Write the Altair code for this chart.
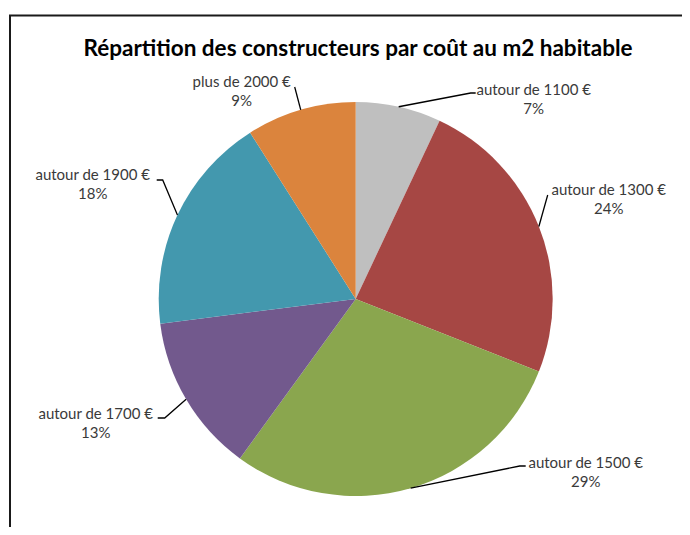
import math
import altair as alt
import pandas as pd

# ---- data ----
categories = ["autour de 1100 €", "autour de 1300 €", "autour de 1500 €",
              "autour de 1700 €", "autour de 1900 €", "plus de 2000 €"]
values = [7, 24, 29, 13, 18, 9]
pct_labels = ["7%", "24%", "29%", "13%", "18%", "9%"]
title_text = "Répartition des constructeurs par coût au m2 habitable"

# ---- style / layout ----
colors = ["#BFBFBF", "#A64744", "#8AA64E", "#72598D", "#4398AE", "#DB843D"]
W, H = 674, 519
CX, CY = 347.7, 291.0          # pie centre in chart pixels
R = 197
# label text centre offsets from pie centre (first line), second line below
label_dx = [178, 253, 230, -260, -263, -114]
label_dy = [-209, -109, 164, 115, -124, -217]
line_gap = 19
# leader elbow and tail offsets from pie centre
elbow_dx = [115, 192, 164, -191, -193, -61]
elbow_dy = [-206, -104, 167, 119, -119, -212]
tail_dx = [120, 192, 170, -198, -199, -61]

total = sum(values)
rows, lines = [], []
cum = 0
for i, (c, v) in enumerate(zip(categories, values)):
    mid = (cum + v / 2) / total * 2 * math.pi
    cum += v
    ex, ey = R * math.sin(mid), -R * math.cos(mid)
    rows.append(dict(idx=i, cat=c, val=v, pct=pct_labels[i],
                     lx=label_dx[i], ly1=label_dy[i], ly2=label_dy[i] + line_gap))
    for k, (px, py) in enumerate([(ex, ey), (elbow_dx[i], elbow_dy[i]),
                                  (tail_dx[i], elbow_dy[i])]):
        lines.append(dict(cat=c, k=k, x=px, y=py))

df = pd.DataFrame(rows)
dl = pd.DataFrame(lines)

xs = alt.Scale(domain=[-CX, W - CX], range=[0, W], nice=False, zero=False)
ys = alt.Scale(domain=[-CY, H - CY], range=[0, H], nice=False, zero=False)

frame = alt.Chart(pd.DataFrame({"a": [0]})).mark_rect(
    fill=None, stroke="#1a1a1a", strokeWidth=2
).encode(x=alt.value(2), y=alt.value(7.5), x2=alt.value(W + 20), y2=alt.value(H + 20))

pie = alt.Chart(df).mark_arc(radius=R, stroke=None).encode(
    theta=alt.Theta("val:Q", stack=True),
    order=alt.Order("idx:Q"),
    color=alt.Color("cat:N", scale=alt.Scale(domain=categories, range=colors), legend=None),
    x=alt.value(CX), y=alt.value(CY),
)

leaders = alt.Chart(dl).mark_line(color="#000000", strokeWidth=1.3).encode(
    x=alt.X("x:Q", scale=xs, axis=None),
    y=alt.Y("y:Q", scale=ys, axis=None),
    detail="cat:N",
    order="k:Q",
)

txt_style = dict(font="Lato", fontSize=15, color="#3a3a3a", align="center", baseline="middle")
names = alt.Chart(df).mark_text(**txt_style).encode(
    x=alt.X("lx:Q", scale=xs, axis=None), y=alt.Y("ly1:Q", scale=ys, axis=None), text="cat:N")
pcts = alt.Chart(df).mark_text(**txt_style).encode(
    x=alt.X("lx:Q", scale=xs, axis=None), y=alt.Y("ly2:Q", scale=ys, axis=None), text="pct:N")

title = alt.Chart(pd.DataFrame({"t": [title_text]})).mark_text(
    font="Lato", fontSize=22.5, fontWeight="bold", color="#000000",
    align="center", baseline="alphabetic"
).encode(x=alt.value(350), y=alt.value(48), text="t:N")

chart = alt.layer(frame, pie, leaders, names, pcts, title).properties(
    width=W, height=H, autosize="none", padding=0
).configure_view(stroke=None).resolve_scale(x="shared", y="shared")

chart.save("out.html", embed_options={"renderer": "svg", "actions": False})
